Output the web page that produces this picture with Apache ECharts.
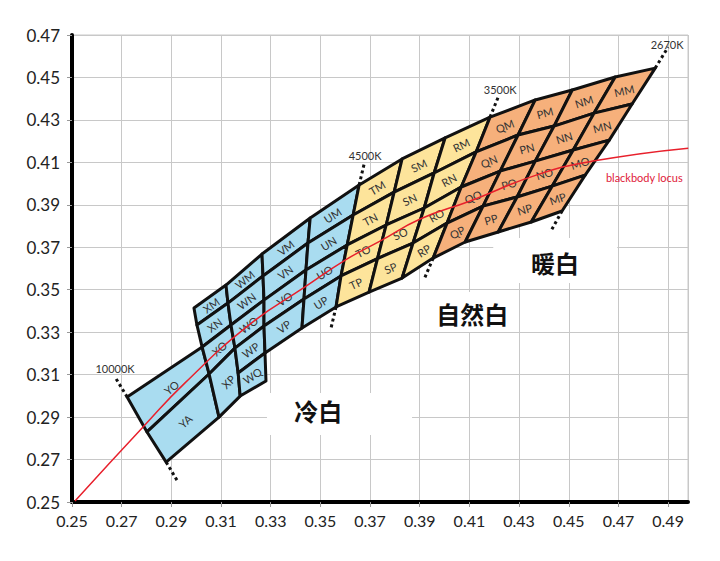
<!DOCTYPE html>
<html><head><meta charset="utf-8">
<script src="https://cdn.jsdelivr.net/npm/echarts@6/dist/echarts.min.js"></script>
<style>html,body{margin:0;padding:0;background:#fff}#c{width:720px;height:561px}</style>
</head><body><div id="c"></div>
<script>
// Axis ranges and tick step
const xMin = 0.25, xMax = 0.498, yMin = 0.25, yMax = 0.47, tickStep = 0.02;

// Isotherm boundary lines (cool -> warm), vertices from top row edge to bottom row edge (CIE x, y)
const isoY = [[0.2722,0.2995],[0.2802,0.2830],[0.2879,0.2688]];               // 10000K
const isoX = [[0.2991,0.3414],[0.3003,0.3334],[0.3024,0.3230],[0.3052,0.3103],[0.3092,0.2900]];
const isoW = [[0.3120,0.3522],[0.3128,0.3437],[0.3140,0.3334],[0.3156,0.3225],[0.3169,0.3108],[0.3177,0.2999]];
const isoV = [[0.3265,0.3668],[0.3269,0.3565],[0.3273,0.3451],[0.3273,0.3329],[0.3277,0.3202],[0.3281,0.3070]];
const isoU = [[0.3459,0.3838],[0.3450,0.3720],[0.3442,0.3593],[0.3434,0.3456],[0.3426,0.3320]];
const isoT = [[0.3656,0.3993],[0.3632,0.3852],[0.3608,0.3711],[0.3583,0.3565],[0.3563,0.3419]]; // 4500K
const isoS = [[0.3829,0.4116],[0.3797,0.3960],[0.3765,0.3805],[0.3730,0.3647],[0.3696,0.3489]];
const isoR = [[0.4002,0.4215],[0.3958,0.4050],[0.3918,0.3885],[0.3873,0.3720],[0.3829,0.3555]];
const isoQ = [[0.4183,0.4313],[0.4127,0.4149],[0.4067,0.3984],[0.4010,0.3814],[0.3954,0.3649]]; // 3500K
const isoP = [[0.4365,0.4394],[0.4296,0.4229],[0.4224,0.4059],[0.4155,0.3894],[0.4083,0.3725]];
const isoN = [[0.4514,0.4441],[0.4441,0.4271],[0.4365,0.4106],[0.4292,0.3937],[0.4216,0.3772]];
const isoM = [[0.4687,0.4502],[0.4602,0.4332],[0.4518,0.4158],[0.4433,0.3988],[0.4349,0.3819]];
const isoE = [[0.4848,0.4544],[0.4755,0.4375],[0.4663,0.4205],[0.4566,0.4040],[0.4473,0.3871]]; // 2670K

// Blackbody locus
const locusPts = [[0.2512,0.2505],[0.2786,0.2853],[0.2955,0.3061],[0.3217,0.3338],[0.3438,0.3513],
  [0.3608,0.3645],[0.3740,0.3729],[0.3902,0.3833],[0.4103,0.3918],[0.4369,0.4040],[0.4598,0.4106],[0.4981,0.4167]];
const locusLabel = 'blackbody locus';
const locusLabelPos = [0.4804,0.4031];

// CCT boundary labels and dotted extensions
const cctNames = ['10000K','4500K','3500K','2670K'];
const cctLabelPos = [[0.2673,0.3131],[0.3680,0.4130],[0.4224,0.4441],[0.4896,0.4653]];
const cctTopEnd = [[0.2673,0.3089],[0.3677,0.4097],[0.4216,0.4408],[0.4900,0.4643]];
const cctBottomEnd = [[0.2927,0.2594],[0.3543,0.3320],[0.3918,0.3550],[0.4426,0.3772]];

// Zone labels
const zoneNames = ['冷白','自然白','暖白'];
const zonePos = [[0.3491,0.2933],[0.4111,0.3390],[0.4445,0.3630]];
const zoneBoxes = [[0.3285,0.2816,0.3869,0.3013],[0.3922,0.3301,0.4284,0.3489],[0.4196,0.3532,0.4695,0.3744]];

// ---- build bins ----
const lines = {Y:isoY, X:isoX, W:isoW, V:isoV, U:isoU, T:isoT, S:isoS, R:isoR, Q:isoQ, P:isoP, N:isoN, M:isoM, E:isoE};
const pt = ref => lines[ref[0]][+ref.slice(1)];
const bins = [];
const addBin = (label, refs) => bins.push({label, pts: refs.map(pt)});
addBin('YO',['Y0','Y1','X3','X2']);
addBin('YA',['Y1','Y2','X4','X3']);
addBin('XM',['X0','X1','W1','W0']);
addBin('XN',['X1','X2','W2','W1']);
addBin('XO',['X2','X3','W3','W2']);
addBin('XP',['X3','X4','W5','W4','W3']);
const rowNames = ['M','N','O','P','Q'];
const cols = [['W','V',5],['V','U',4],['U','T',4],['T','S',4],['S','R',4],['R','Q',4],['Q','P',4],['P','N',4],['N','M',4],['M','E',4]];
cols.forEach(([a,b,n]) => { for (let r=0;r<n;r++) addBin(a+rowNames[r],[a+r,a+(r+1),b+(r+1),b+r]); });
const cool = '#a9dcf0', neutral = '#fde49b', warm = '#f6b07b';
const colorOf = l => 'YXWVU'.includes(l[0]) ? cool : ('TSR'.includes(l[0]) ? neutral : warm);

const FONT = 'Lato, "Noto Sans", sans-serif';

const chart = echarts.init(document.getElementById('c'), null, {renderer:'svg'});
chart.setOption({
  animation:false,
  backgroundColor:'#fff',
  grid:{left:72,right:32,top:35,bottom:59,show:true,borderColor:'#c8c8c8',borderWidth:1},
  xAxis:{type:'value',min:xMin,max:xMax,interval:tickStep,
    axisLine:{show:true,onZero:false,lineStyle:{color:'#000',width:4}},
    axisTick:{show:true,length:5,lineStyle:{color:'#999'}},
    axisLabel:{formatter:v=>v.toFixed(2),fontSize:16,color:'#222',margin:10,fontFamily:FONT,showMaxLabel:false},
    splitLine:{show:true,lineStyle:{color:'#c8c8c8',width:1}}},
  yAxis:{type:'value',min:yMin,max:yMax,interval:tickStep,
    axisLine:{show:true,onZero:false,lineStyle:{color:'#000',width:4}},
    axisTick:{show:true,length:5,lineStyle:{color:'#999'}},
    axisLabel:{formatter:v=>v.toFixed(2),fontSize:17,color:'#222',margin:12,fontFamily:FONT},
    splitLine:{show:true,lineStyle:{color:'#c8c8c8',width:1}}},
  series:[
    {type:'custom',z:1,silent:true,clip:false,
     data:zoneBoxes.map(b=>[(b[0]+b[2])/2,(b[1]+b[3])/2]),
     renderItem:(p,api)=>{const b=zoneBoxes[p.dataIndex];const a=api.coord([b[0],b[3]]),c=api.coord([b[2],b[1]]);
       return {type:'rect',shape:{x:a[0],y:a[1],width:c[0]-a[0],height:c[1]-a[1]},style:{fill:'#fff'}};}},
    {type:'custom',z:3,silent:true,clip:false,
     data:bins.map(b=>[b.pts.reduce((s,q)=>s+q[0],0)/b.pts.length,b.pts.reduce((s,q)=>s+q[1],0)/b.pts.length]),
     renderItem:(p,api)=>{
       const b=bins[p.dataIndex]; const P=b.pts.map(q=>api.coord(q)); const n=P.length;
       const cx=P.reduce((s,q)=>s+q[0],0)/n, cy=P.reduce((s,q)=>s+q[1],0)/n;
       const a1=Math.atan2(-(P[n-1][1]-P[0][1]),P[n-1][0]-P[0][0]);
       const a2=Math.atan2(-(P[2][1]-P[1][1]),P[2][0]-P[1][0]);
       return {type:'group',children:[
         {type:'polygon',shape:{points:P},style:{fill:colorOf(b.label),stroke:'#111',lineWidth:3,lineJoin:'round'}},
         {type:'text',x:cx,y:cy,rotation:(a1+a2)/2,style:{text:b.label,fill:'#333',fontSize:11,fontFamily:FONT,align:'center',verticalAlign:'middle'}}
       ]};}},
    {type:'custom',z:4,silent:true,clip:false,
     data:cctNames.map((n,i)=>cctLabelPos[i]),
     renderItem:(p,api)=>{
       const i=p.dataIndex; const L=[isoY,isoT,isoQ,isoE][i];
       const t0=api.coord(L[0]),t1=api.coord(cctTopEnd[i]),b0=api.coord(L[L.length-1]),b1=api.coord(cctBottomEnd[i]);
       const lp=api.coord(cctLabelPos[i]);
       const ls={stroke:'#111',lineWidth:3,lineDash:[3,3]};
       return {type:'group',children:[
         {type:'line',shape:{x1:t0[0],y1:t0[1],x2:t1[0],y2:t1[1]},style:ls},
         {type:'line',shape:{x1:b0[0],y1:b0[1],x2:b1[0],y2:b1[1]},style:ls},
         {type:'text',x:lp[0],y:lp[1],style:{text:cctNames[i],fill:'#333',fontSize:11,fontFamily:FONT,align:'center',verticalAlign:'middle'}}
       ]};}},
    {type:'line',z:5,silent:true,smooth:true,symbol:'none',data:locusPts,
     lineStyle:{color:'#e8202c',width:1.5}},
    {type:'custom',z:6,silent:true,clip:false,
     data:[locusLabelPos],
     renderItem:(p,api)=>{const c=api.coord(locusLabelPos);
       return {type:'text',x:c[0],y:c[1],style:{text:locusLabel,fill:'#e0203a',fontSize:11,fontFamily:FONT,align:'center',verticalAlign:'middle'}};}},
    {type:'custom',z:7,silent:true,clip:false,
     data:zonePos,
     renderItem:(p,api)=>{const c=api.coord(zonePos[p.dataIndex]);
       return {type:'text',x:c[0],y:c[1],style:{text:zoneNames[p.dataIndex],fill:'#111',fontSize:24,fontWeight:'bold',fontFamily:'"Noto Sans CJK SC", sans-serif',align:'center',verticalAlign:'middle'}};}}
  ]
});
</script></body></html>
